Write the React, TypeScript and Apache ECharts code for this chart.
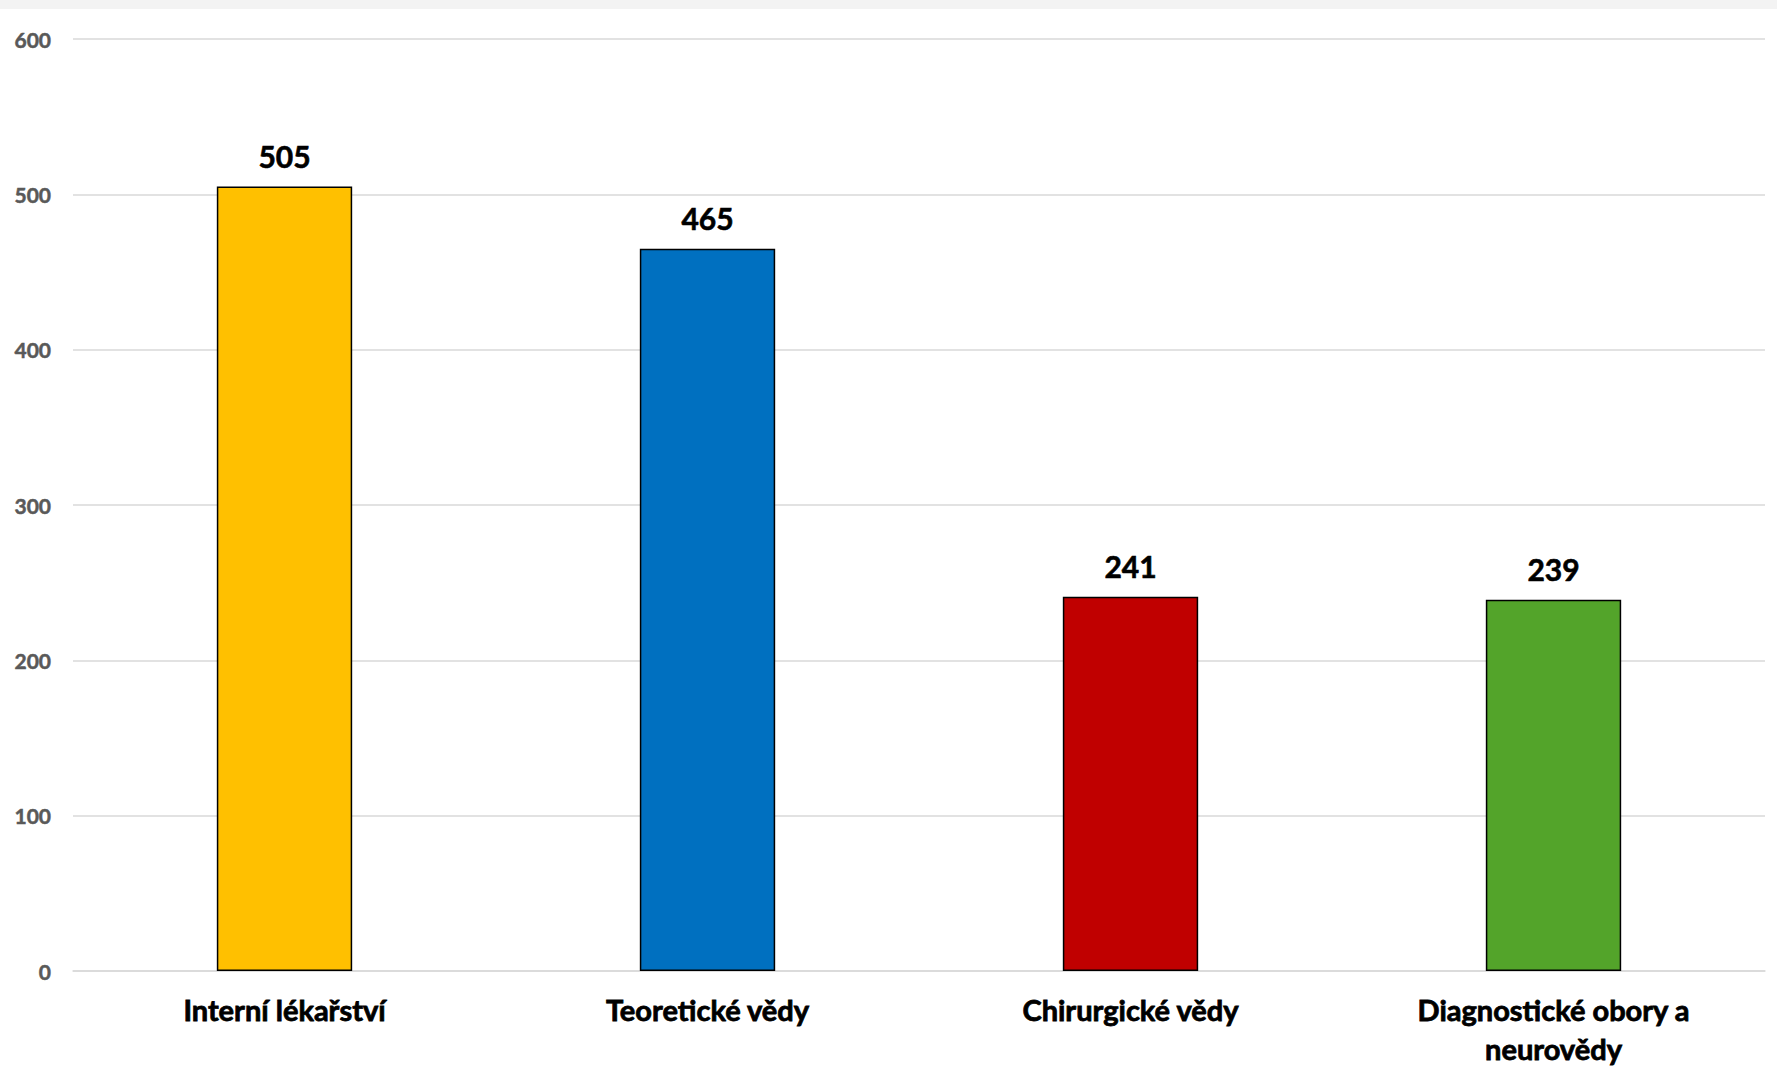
import React, { useEffect, useRef } from "react";
import * as echarts from "echarts";

const categories = ["Interní lékařství", "Teoretické vědy", "Chirurgické vědy", "Diagnostické obory a\nneurovědy"];
const values = [505, 465, 241, 239];
const barColors = ["#FFC000", "#0070C0", "#C00000", "#53A42A"];
const yTicks = [0, 100, 200, 300, 400, 500, 600];

export default function App() {
  const ref = useRef<HTMLDivElement>(null);
  useEffect(() => {
    const chart = echarts.init(ref.current!, null, { renderer: "svg" });
    chart.setOption({
      animation: false,
      backgroundColor: "#ffffff",
      graphic: [
        { type: "rect", left: 0, top: 0, shape: { width: 1777, height: 9 }, style: { fill: "#f3f3f3" }, silent: true },
      ],
      grid: { left: 73, right: 12, top: 39, bottom: 110 },
      xAxis: {
        type: "category",
        data: categories,
        axisLine: { show: true, lineStyle: { color: "#d9d9d9", width: 1.5 } },
        axisTick: { show: false },
        axisLabel: {
          color: "#000000",
          fontFamily: "Lato",
          fontWeight: "bold",
          fontSize: 29,
          lineHeight: 39,
          margin: 19,
          interval: 0,
          textBorderColor: "#000000",
          textBorderWidth: 0.8,
        },
      },
      yAxis: {
        type: "value",
        min: yTicks[0],
        max: yTicks[yTicks.length - 1],
        interval: 100,
        axisLine: { show: false },
        axisTick: { show: false },
        splitLine: { lineStyle: { color: "#d9d9d9", width: 1.5 } },
        axisLabel: {
          color: "#595959",
          fontFamily: "Lato",
          fontWeight: "bold",
          fontSize: 21,
          margin: 22,
          textBorderColor: "#595959",
          textBorderWidth: 0.5,
        },
      },
      series: [
        {
          type: "bar",
          barWidth: "32%",
          data: values.map((v, i) => ({
            value: v,
            itemStyle: { color: barColors[i], borderColor: "#000000", borderWidth: 1.5 },
          })),
          label: {
            show: true,
            position: "top",
            distance: 16,
            color: "#000000",
            fontFamily: "Lato",
            fontWeight: "bold",
            fontSize: 30,
            textBorderColor: "#000000",
            textBorderWidth: 0.6,
          },
        },
      ],
    });
    return () => chart.dispose();
  }, []);
  return <div ref={ref} style={{ position: "absolute", left: 0, top: 0, width: 1777, height: 1081 }} />;
}
